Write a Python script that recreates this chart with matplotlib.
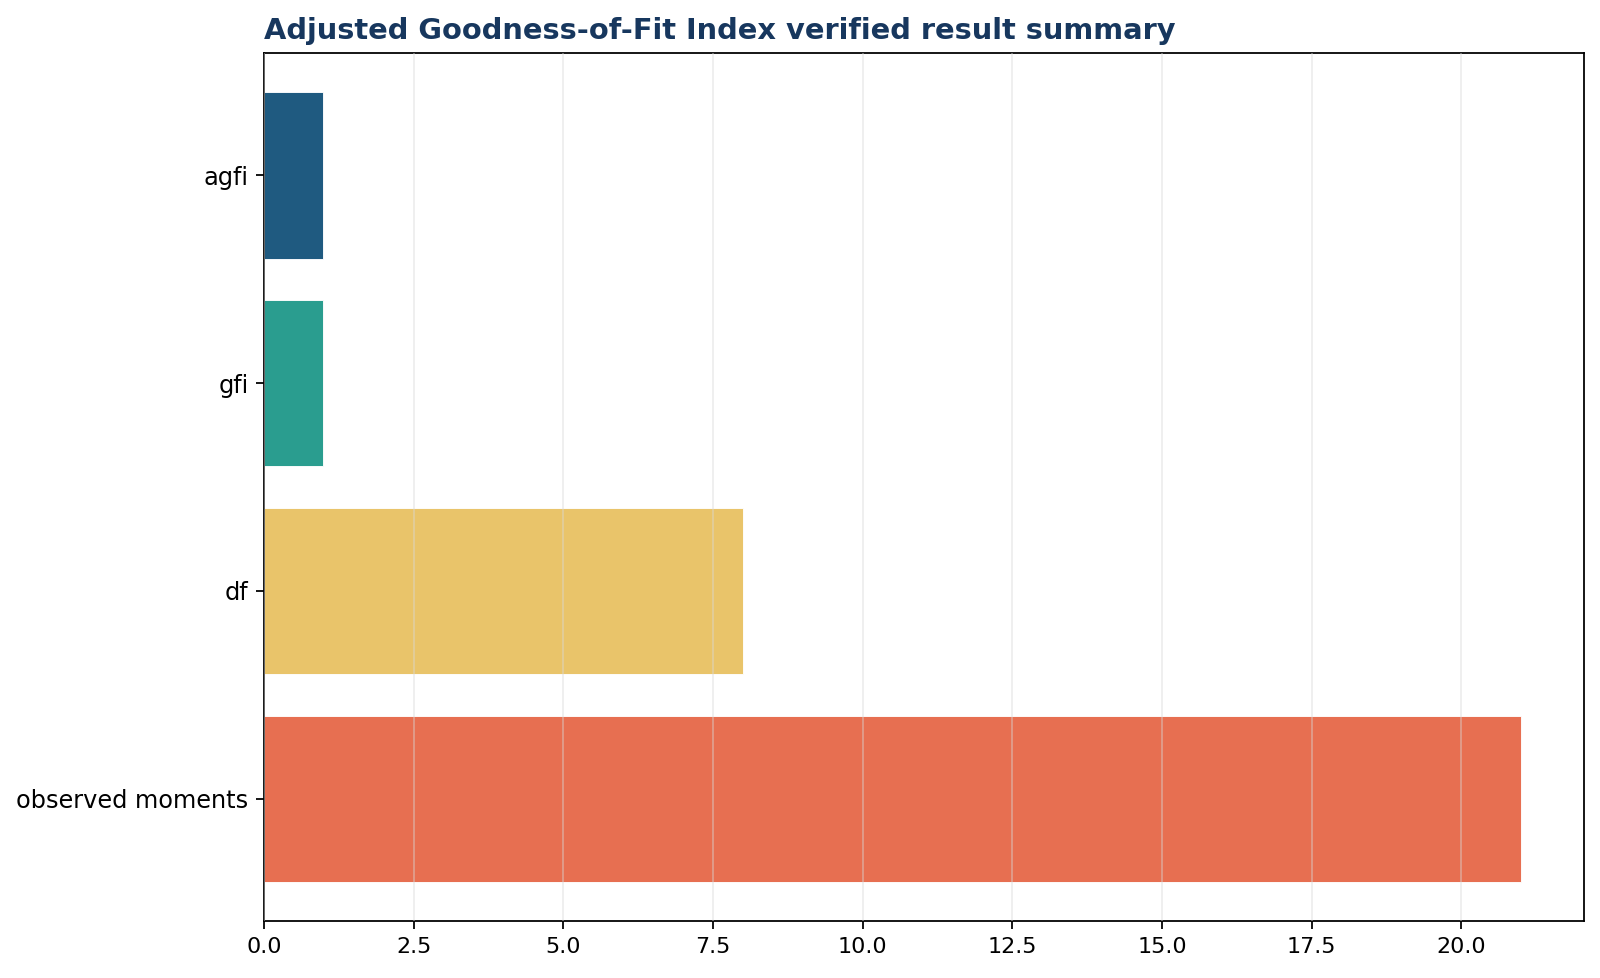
import matplotlib
matplotlib.use("Agg")
import matplotlib.pyplot as plt

categories = ["agfi", "gfi", "df", "observed moments"]
values = [0.98, 0.99, 8, 21]
colors = ["#1f5a80", "#2a9d8f", "#e9c46a", "#e76f51"]

fig, ax = plt.subplots(figsize=(10, 6.1125), dpi=160)
fig.subplots_adjust(left=0.165, right=0.99, top=0.946, bottom=0.058)
ax.barh(categories, values, color=colors, height=0.8, edgecolor="white", linewidth=0.4)
ax.invert_yaxis()
ax.set_axisbelow(False)
ax.grid(axis="x", color="#d8d8d8", alpha=0.45, linewidth=0.8)
ax.tick_params(axis="y", labelsize=10.8)
ax.tick_params(axis="x", labelsize=10)
ax.set_title("Adjusted Goodness-of-Fit Index verified result summary", loc="left",
             fontsize=13, fontweight="bold", color="#17375e")
plt.savefig("out.png", dpi=160)
